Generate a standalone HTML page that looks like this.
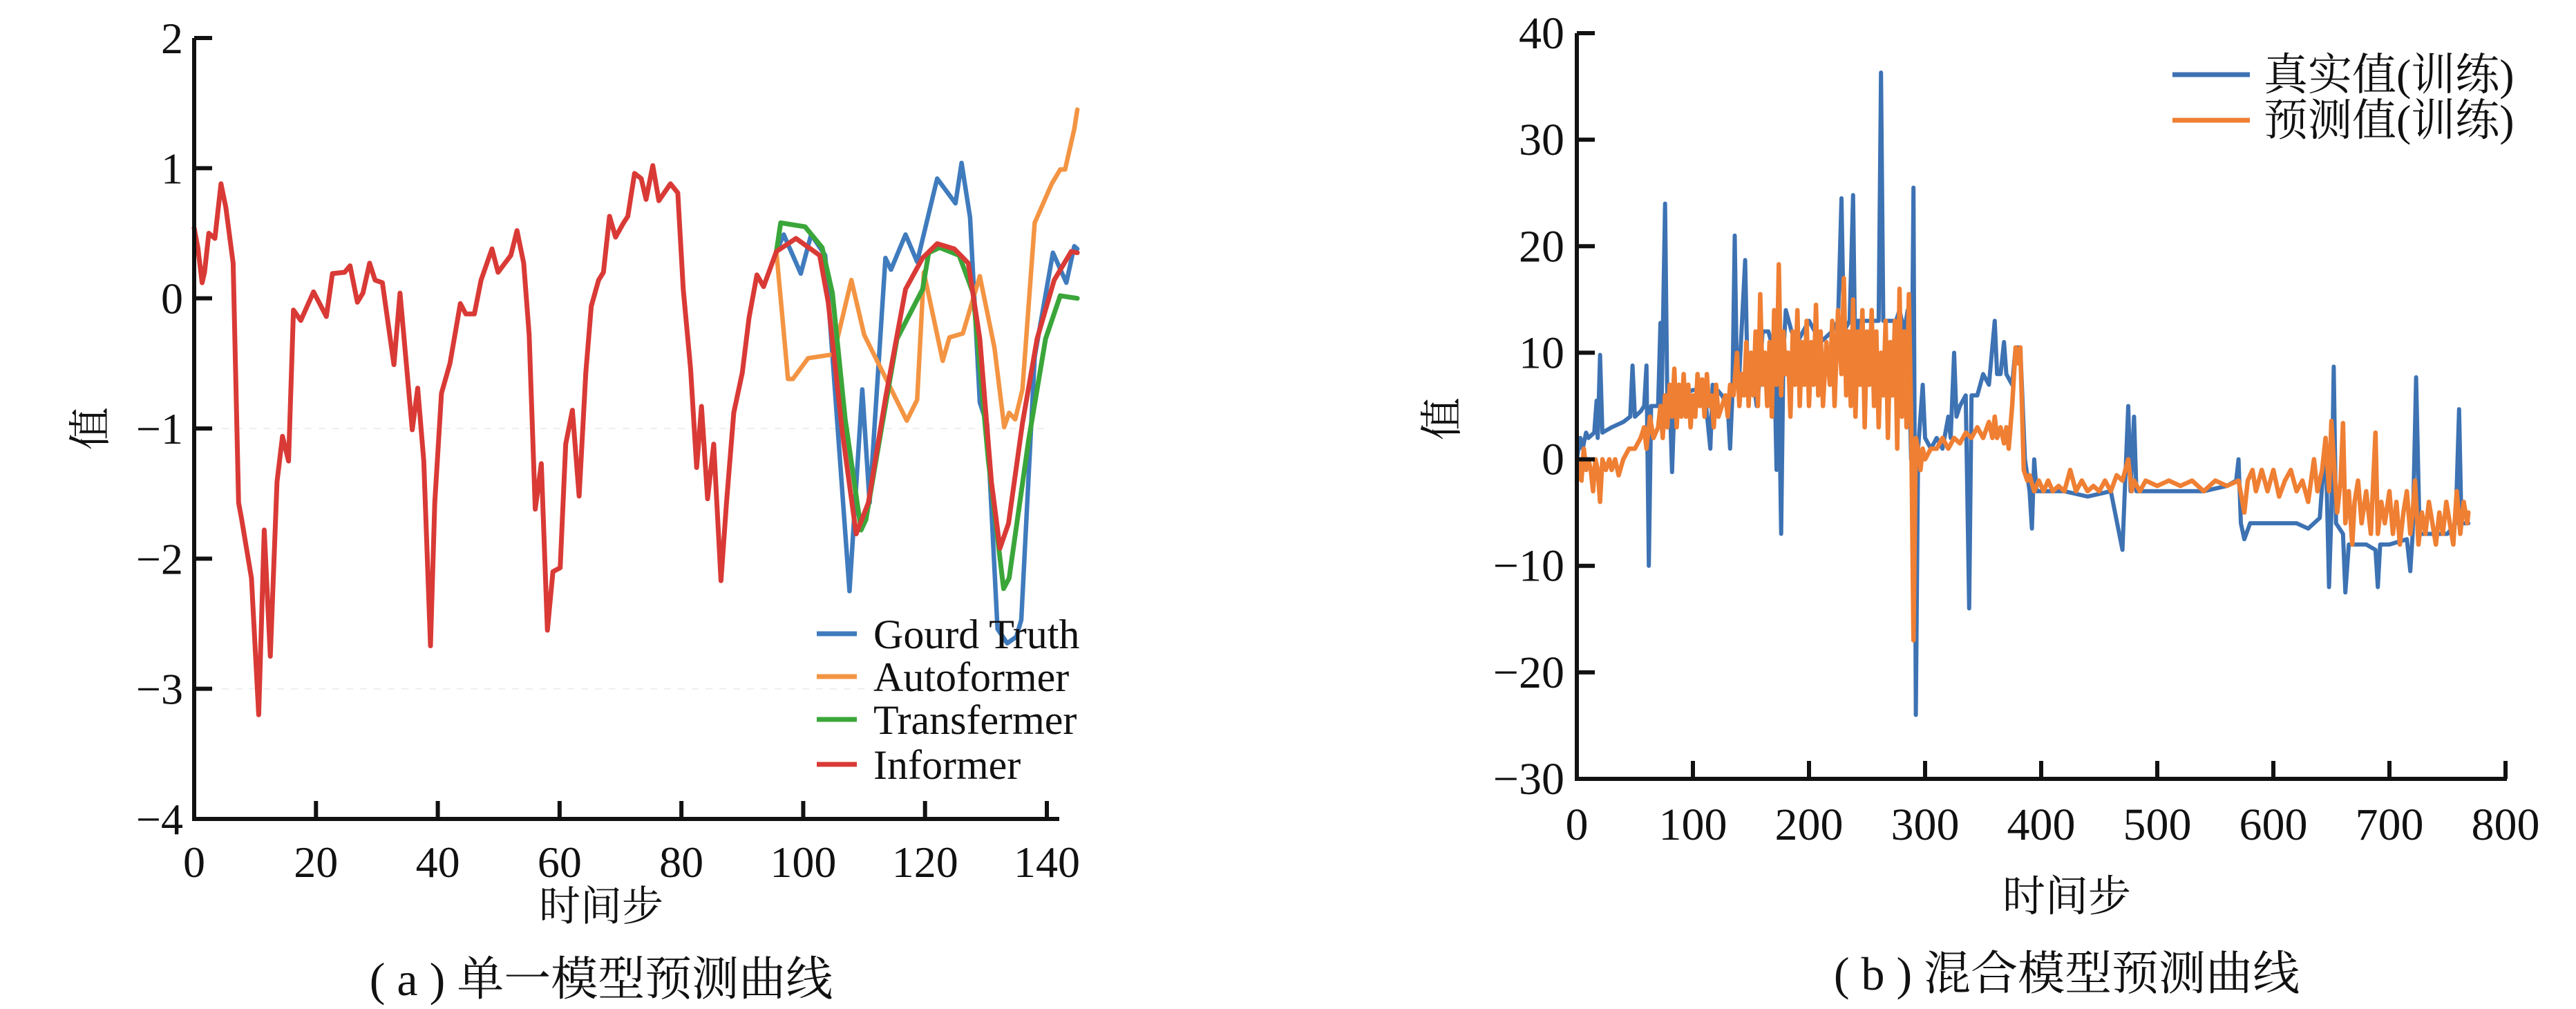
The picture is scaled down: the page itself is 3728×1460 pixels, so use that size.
<!DOCTYPE html>
<html><head><meta charset="utf-8">
<style>
html,body{margin:0;padding:0;background:#fff;}
svg{display:block;}
text{font-family:"Liberation Serif","Noto Serif CJK SC","Noto Sans CJK SC",serif;fill:#111;}
</style></head>
<body>
<svg id="chart" width="3728" height="1460" viewBox="0 0 3728 1460" xmlns="http://www.w3.org/2000/svg"></svg>
<script>
// ===== Left chart data =====
const aTicksX = [0,20,40,60,80,100,120,140];
const aTicksY = [2,1,0,-1,-2,-3,-4];
const aTickLabelsY = ["2","1","0","\u22121","\u22122","\u22123","\u22124"];
const informerX = [0,0.6,1.3,1.7,2.4,3.4,4.4,5.2,6.4,7.3,7.8,9.4,10.6,11.5,12.5,13.6,14.5,15.5,16.3,17.5,19.6,21.7,22.7,24.7,25.6,26.8,27.7,28.8,29.7,30.9,32.8,33.8,35.8,36.7,37.7,38.8,39.5,40.6,42,43.7,44.6,46,47.1,48.9,49.9,52,53,54.1,55,56,57,58,58.9,60.1,61,62.1,63.2,64.3,65.2,66.4,67.2,68.2,69.2,70.5,71.2,72.3,73.4,74.2,75.3,76.3,78.2,79.4,80.3,81.5,82.5,83.3,84.3,85.3,86.5,87.4,88.6,90,91.1,92.4,93.5,95.6,98.8,102.7,104.1,106.4,108.7,110.7,113.5,116.8,119.6,122,124.8,127.1,129,130.9,132.3,133.7,136,138.4,141.2,144,145];
const informerY = [0.54,0.39,0.12,0.2,0.5,0.46,0.88,0.7,0.27,-1.57,-1.7,-2.15,-3.2,-1.78,-2.75,-1.41,-1.06,-1.25,-0.09,-0.17,0.05,-0.14,0.19,0.2,0.25,-0.03,0.04,0.27,0.14,0.12,-0.51,0.04,-1.01,-0.69,-1.25,-2.67,-1.57,-0.73,-0.5,-0.04,-0.12,-0.12,0.14,0.38,0.2,0.33,0.52,0.27,-0.28,-1.62,-1.27,-2.55,-2.1,-2.07,-1.12,-0.86,-1.52,-0.57,-0.06,0.14,0.2,0.63,0.47,0.58,0.63,0.96,0.92,0.76,1.02,0.75,0.88,0.81,0.07,-0.54,-1.3,-0.83,-1.54,-1.12,-2.17,-1.57,-0.88,-0.57,-0.15,0.18,0.09,0.36,0.46,0.33,-0.03,-1.02,-1.81,-1.57,-0.77,0.07,0.31,0.42,0.38,0.27,-0.31,-1.41,-1.92,-1.73,-0.96,-0.31,0.14,0.36,0.35];
const truthX = [95.6,96.8,99.6,101.3,103.6,107.6,109.7,110.9,113.5,114.4,116.8,118.7,122,125,126,127.4,129,130.2,131.9,133.5,135,135.8,138,141,143.2,144.5,145];
const truthY = [0.36,0.49,0.19,0.49,0.33,-2.25,-0.7,-1.57,0.31,0.22,0.49,0.28,0.92,0.73,1.04,0.62,-0.8,-0.97,-2.54,-2.65,-2.6,-2.47,-0.45,0.35,0.12,0.4,0.38];
const autoX = [95.6,97.5,98.3,100.8,105,107.9,110,117,118.7,119.8,122.9,124,126.2,129,131.4,133,133.8,134.8,136,138,140.8,142.2,143,144.5,145];
const autoY = [0.36,-0.62,-0.62,-0.46,-0.43,0.14,-0.28,-0.94,-0.78,0.2,-0.48,-0.3,-0.27,0.17,-0.38,-0.99,-0.88,-0.93,-0.7,0.58,0.88,0.99,0.99,1.3,1.45];
const transX = [95.6,96.3,100.3,103.1,104.8,106.9,109.5,110.3,113,115.4,119.6,120.6,122.4,125.6,127.9,130.4,132.9,133.8,137,139.8,142.2,145];
const transY = [0.36,0.58,0.55,0.39,0.04,-0.93,-1.78,-1.7,-0.96,-0.31,0.07,0.35,0.39,0.33,0.04,-1.25,-2.23,-2.15,-1.09,-0.31,0.02,0.0];
const aLegend = ["Gourd Truth","Autoformer","Transfermer","Informer"];

// ===== Right chart data =====
const bTicksX = [0,100,200,300,400,500,600,700,800];
const bTicksY = [40,30,20,10,0,-10,-20,-30];
const bTickLabelsY = ["40","30","20","10","0","\u221210","\u221220","\u221230"];
const trueT = [0,3,5,8,10,15,17,18,20,22,30,40,46,48,50,55,58,60,62,64,70,72,73,76,78,80,82,84,90,100,110,115,117,125,130,132,134,136,138,140,145,147,150,155,157,160,165,170,172,174,176,178,180,185,190,195,200,210,220,225,228,230,235,238,240,242,250,255,260,262,264,270,275,278,282,285,288,290,292,294,298,300,305,310,315,320,322,325,327,330,335,338,340,345,350,355,360,362,365,368,370,375,378,382,386,390,392,394,396,400,420,440,460,470,472,475,477,480,482,500,520,540,560,568,570,572,575,580,600,620,630,640,645,648,650,652,654,660,662,665,680,688,690,692,700,715,718,720,723,726,740,750,757,760,762,768];
const trueV = [0,2,1,2.5,2,2.5,5.5,2,9.8,2.5,3,3.5,4,8.8,4,4.5,5,8.8,-10,5,5,12.8,5,24,5,6,-1.2,5,6,6.5,6.5,1,7,6,5,1,6,21,7,8,18.7,8,9,5,7,12,12,10,-1,8,-7,10,14,12,11,12,13,11,12,13,24.5,12,13,24.8,8,13,13,13,13,36.3,13,13,13,14,12,14,0,25.5,-24,1,7,2,1,2,1,4,2,10,4,5,6,-14,6,6,8,7,13,8,8,11,8,7,10.5,10.5,0,-3,-6.5,0,-3,-3,-3,-3.5,-3,-8.5,-3,5,-3,4,-3,-3,-3,-3,-2.5,-2,0,-6,-7.5,-6,-6,-6,-6.5,-5.5,2,-12,-5,8.7,-6,-7,-12.5,-8,-8,-8.5,-12,-8,-8,-7.5,-10.5,-7,7.7,-7,-7,-7,-6,4.7,-6,-6];
const predT = [0,2,4,6,8,10,12,14,16,18,20,22,25,28,30,33,36,40,45,50,55,58,60,63,66,70,72,74,76,78,80,82,84,86,88,90,92,94,96,98,100,102,104,106,108,110,112,114,116,118,120,122,125,128,130,132,135,138,140,142,144,146,148,150,152,154,156,158,160,162,164,166,168,170,172,174,176,178,180,182,184,186,188,190,192,194,196,198,200,202,204,206,208,210,212,215,218,220,222,225,228,230,232,234,236,238,240,242,244,246,248,250,252,254,256,258,260,262,264,266,268,270,272,274,276,278,280,282,284,286,288,290,292,294,296,298,300,305,310,315,320,325,330,335,340,345,350,355,358,360,362,365,368,370,372,375,378,380,382,385,388,390,394,398,402,406,410,415,420,425,430,435,440,445,450,455,460,465,470,475,478,480,485,490,500,510,520,530,540,550,560,570,575,578,582,585,590,595,600,605,610,615,620,625,630,635,638,642,645,648,650,652,655,658,660,662,665,668,670,673,676,680,684,688,690,693,696,700,703,706,709,712,715,718,720,722,725,728,731,734,737,740,743,746,749,752,755,758,761,764,767,768];
const predV = [-2,0,-2,1,-1,0,-1,-3,0,-1,-4,0,-1,0,-1,0,-1.5,0,1,1,2,3,1,4,2,3,5,2,6,3,7,4,8.5,3,7,4,8,4,7,3,6,4,8,5,7.5,4,8,5,6,3,7,4,5,6,4,7,6,10,5,8,6,11,5,10,6,12,5,15.5,7,10,5,11,4,14,7,18.3,6,12,8,10,4,12,7,14,5,11,7,13,5,11,7,14.5,6,12,5,11,7,13,5,14,8,17,6,12,5,15,4,12,7,14,3,12,7,14,5,12,3,10,6,13,2,11,6,13,1,16,4,12,3,15.5,4,-17,2,1,-1,1,0,1,1,2,1,2,1.5,2.5,2,3,2,3.5,2,4,2,3,1.5,3,1,5,10.5,9,10.5,-1,-2,-1.5,-3,-2,-3,-2,-3,-2.5,-3,-1,-3,-2,-3,-2.5,-3,-2,-3,-1.5,-2,0,-3,-2,-3,-2,-2.5,-2,-2.5,-2,-3,-2,-2.5,-2,-5,-2,-1,-3,-1,-3,-1,-3.5,-2,-1,-3,-2,-4,0,-3,-1,2,-3,3.6,0,-5,-2,3.4,-6,-3,-8,-4,-2,-6,-3,-7,2.5,-7,-4,-6,-3,-7,-4,-8,-5,-3,-7,-5,-2,-8,-5,-7,-4,-6,-8,-5,-7,-4,-6,-8,-3,-7,-4,-6,-5];
const bLegend = ["真实值(训练)","预测值(训练)"];

const NS = "http://www.w3.org/2000/svg";
const svg = document.getElementById('chart');
function mk(tag, attrs, parent){
  const e = document.createElementNS(NS, tag);
  for (const k in attrs) e.setAttribute(k, attrs[k]);
  (parent||svg).appendChild(e);
  return e;
}
function txt(str, x, y, size, anchor, parent){
  const t = mk('text', {x:x, y:y, 'font-size':size, 'text-anchor':anchor||'middle'}, parent);
  t.textContent = str;
  return t;
}

// ---------- Left chart ----------
const A = {x0:281, x1:1515, xmin:0, xmax:140, y0:55, y1:1185, ymax:2, ymin:-4};
function ax(v){ return A.x0 + (v - A.xmin) / (A.xmax - A.xmin) * (A.x1 - A.x0); }
function ay(v){ return A.y0 + (A.ymax - v) / (A.ymax - A.ymin) * (A.y1 - A.y0); }

const gA = mk('g', {});



[-1,-3].forEach(v=>{
  const g = mk('line', {x1:A.x0, x2:A.x1, y1:ay(v), y2:ay(v), stroke:'#eee', 'stroke-width':2, 'stroke-dasharray':'10 10'}, gA);
  
  
});

function drawLine(xs, ys, color, name, parent, fx, fy, w){
  const pts = xs.map((x,i)=> fx(x).toFixed(1)+','+fy(ys[i]).toFixed(1)).join(' ');
  const p = mk('polyline', {points:pts, fill:'none', stroke:color, 'stroke-width':w, 'stroke-linejoin':'round', 'stroke-linecap':'round'}, parent);
  
  
  return p;
}
const cBlue='#3f7bbd', cOrange='#f39443', cGreen='#3aa63a', cRed='#d93a36';
drawLine(truthX, truthY, cBlue, 'series-gourd-truth', gA, ax, ay, 6.5);
drawLine(autoX, autoY, cOrange, 'series-autoformer', gA, ax, ay, 6.5);
drawLine(transX, transY, cGreen, 'series-transfermer', gA, ax, ay, 7);
drawLine(informerX, informerY, cRed, 'series-informer', gA, ax, ay, 7);

const aAxX = mk('line', {x1:A.x0, x2:A.x1+18, y1:A.y1, y2:A.y1, stroke:'#111', 'stroke-width':6}, gA);


const aAxY = mk('line', {x1:A.x0, x2:A.x0, y1:A.y0, y2:A.y1+3, stroke:'#111', 'stroke-width':6}, gA);


aTicksX.forEach(v=>{
  const t = mk('line', {x1:ax(v), x2:ax(v), y1:A.y1, y2:A.y1-26, stroke:'#111', 'stroke-width':6}, gA);
  
  
  const l = txt(String(v), ax(v), A.y1+84, 64, 'middle', gA);
  
  
});
aTicksY.forEach((v,i)=>{
  const t = mk('line', {x1:A.x0, x2:A.x0+26, y1:ay(v), y2:ay(v), stroke:'#111', 'stroke-width':6}, gA);
  
  
  const l = txt(aTickLabelsY[i], A.x0-16, ay(v)+22, 64, 'end', gA);
  
  
});
const aXT = txt('时间步', 870, 1332, 60, 'middle', gA);


const aYT = txt('值', 0, 0, 62, 'middle', gA);
aYT.setAttribute('transform', 'translate(152,620) rotate(-90)');


const aCap = txt('( a ) 单一模型预测曲线', 870, 1440, 68, 'middle', gA);



const aLegColors = [cBlue, cOrange, cGreen, cRed];
const aLegYs = [917, 979, 1041, 1106];
aLegend.forEach((s,i)=>{
  const l = mk('line', {x1:1182, x2:1240, y1:aLegYs[i], y2:aLegYs[i], stroke:aLegColors[i], 'stroke-width':7}, gA);
  
  
  const t = txt(s, 1264, aLegYs[i]+21, 60, 'start', gA);
  
  
});

// ---------- Right chart ----------
const B = {x0:2282, x1:3626, xmin:0, xmax:800, y0:48, y1:1127, ymax:40, ymin:-30};
function bx(v){ return B.x0 + (v - B.xmin) / (B.xmax - B.xmin) * (B.x1 - B.x0); }
function by(v){ return B.y0 + (B.ymax - v) / (B.ymax - B.ymin) * (B.y1 - B.y0); }
const gB = mk('g', {});


const cB2='#3d72b3', cO2='#ef7f33';
drawLine(trueT, trueV, cB2, 'series-true-value', gB, bx, by, 6);
drawLine(predT, predV, cO2, 'series-predicted-value', gB, bx, by, 6.5);

const bAxX = mk('line', {x1:B.x0, x2:B.x1+2, y1:B.y1, y2:B.y1, stroke:'#111', 'stroke-width':6}, gB);


const bAxY = mk('line', {x1:B.x0, x2:B.x0, y1:B.y0, y2:B.y1+3, stroke:'#111', 'stroke-width':6}, gB);


bTicksX.forEach(v=>{
  const t = mk('line', {x1:bx(v), x2:bx(v), y1:B.y1, y2:B.y1-26, stroke:'#111', 'stroke-width':6}, gB);
  
  
  const l = txt(String(v), bx(v), B.y1+88, 66, 'middle', gB);
  
  
});
bTicksY.forEach((v,i)=>{
  const t = mk('line', {x1:B.x0, x2:B.x0+26, y1:by(v), y2:by(v), stroke:'#111', 'stroke-width':6}, gB);
  
  
  const l = txt(bTickLabelsY[i], B.x0-18, by(v)+22, 66, 'end', gB);
  
  
});
const bXT = txt('时间步', 2991, 1318, 62, 'middle', gB);


const bYT = txt('值', 0, 0, 62, 'middle', gB);
bYT.setAttribute('transform', 'translate(2108,606) rotate(-90)');


const bCap = txt('( b ) 混合模型预测曲线', 2991, 1432, 68, 'middle', gB);



const bLegColors = [cB2, cO2];
const bLegYs = [108, 174];
bLegend.forEach((s,i)=>{
  const l = mk('line', {x1:3144, x2:3256, y1:bLegYs[i], y2:bLegYs[i], stroke:bLegColors[i], 'stroke-width':7}, gB);
  
  
  const t = txt(s, 3276, bLegYs[i]+22, 64, 'start', gB);
  
  
});
</script>
</body></html>
